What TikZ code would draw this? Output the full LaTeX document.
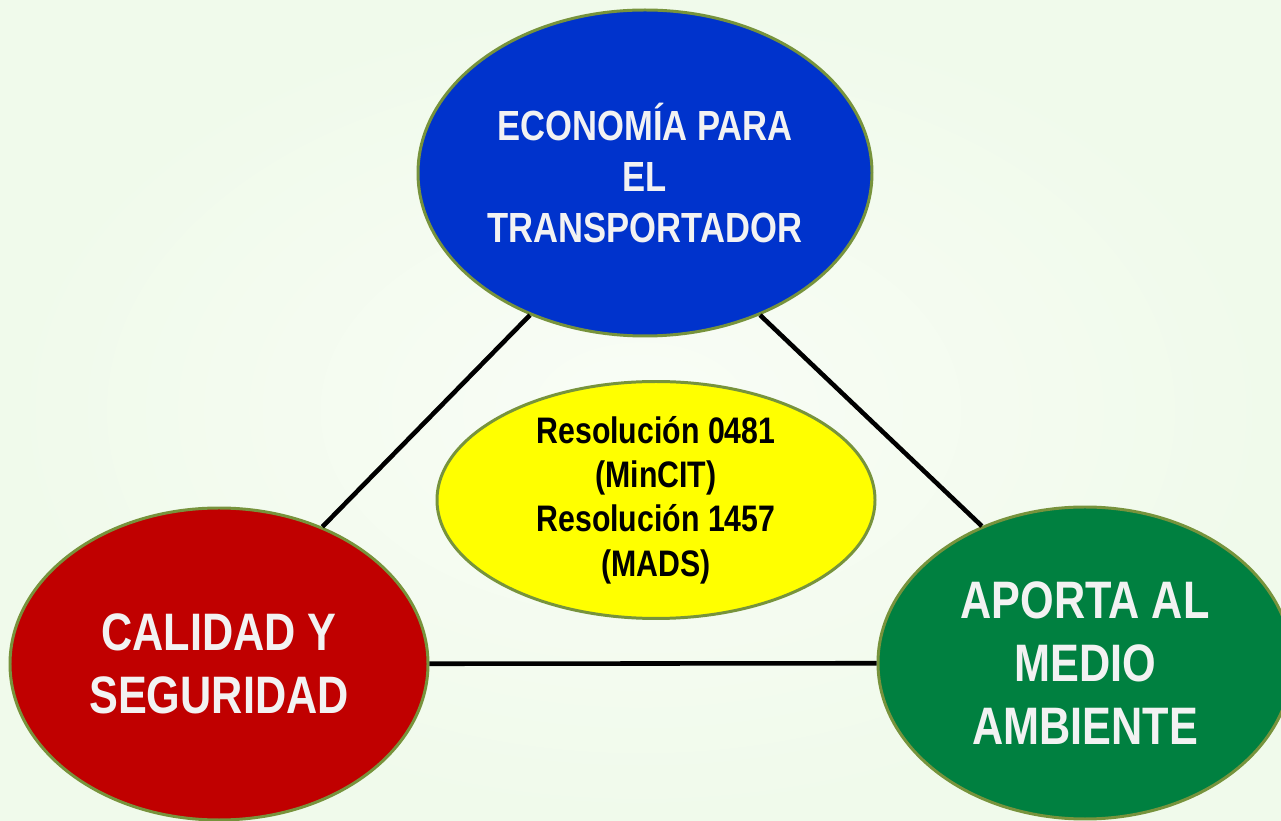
\documentclass[tikz,border=0pt]{standalone}
\usepackage{fontspec}
\setmainfont{Liberation Sans}[FakeStretch=0.82]
\usepackage{tikz}
\usetikzlibrary{positioning,shapes.geometric}
\usepackage{xcolor}

\definecolor{bgcentre}{RGB}{249,253,246}
\definecolor{bgedge}{RGB}{240,250,235}
\definecolor{rimgreen}{RGB}{119,147,60}
\definecolor{topblue}{RGB}{0,51,204}
\definecolor{leftred}{RGB}{192,0,0}
\definecolor{rightgreen}{RGB}{0,128,64}
\definecolor{textwhite}{RGB}{242,242,242}
\definecolor{puryellow}{RGB}{255,255,0}

\tikzset{
    topic/.style={ellipse, draw=rimgreen, line width=1.7pt, inner sep=0pt,
        align=center, text=textwhite, font=\bfseries},
    link/.style={line width=2.6pt, black}
}

\begin{document}
\begin{tikzpicture}
    % page
    \useasboundingbox (0,0) rectangle (25.62,16.42);
    \clip (0,0) rectangle (25.62,16.42);
    \shade[inner color=bgcentre, outer color=bgedge] (0,0) rectangle (25.62,16.42);

    % Economia
    \node[topic, fill=topblue, minimum width=9.08cm, minimum height=6.52cm,
        font=\bfseries\fontsize{24}{28.8}\selectfont] (econ) at (12.9,12.96)
        {ECONOMÍA PARA\\EL\\TRANSPORTADOR};

    % Calidad
    \node[topic, fill=leftred, minimum width=8.36cm, minimum height=6.24cm,
        font=\bfseries\fontsize{30}{36}\selectfont] (calidad) at (4.38,3.14)
        {CALIDAD Y\\SEGURIDAD};

    % Medio ambiente
    \node[topic, fill=rightgreen, minimum width=8.28cm, minimum height=6.24cm,
        font=\bfseries\fontsize{30}{36}\selectfont] (ambiente) at (21.7,3.16)
        {APORTA AL\\MEDIO\\AMBIENTE};

    % Resoluciones
    \node[topic, fill=puryellow, text=black, minimum width=8.76cm, minimum height=4.68cm,
        font=\bfseries\fontsize{21}{25.2}\selectfont] (resol) at (13.12,6.42)
        {Resolución 0481\\(MinCIT)\\Resolución 1457\\(MADS)};

    % triangle
    \draw[link] (econ.231) -- (calidad.53);
    \draw[link] (econ.309) -- (ambiente.127);
    \draw[link] (calidad) -- (ambiente);
\end{tikzpicture}
\end{document}
